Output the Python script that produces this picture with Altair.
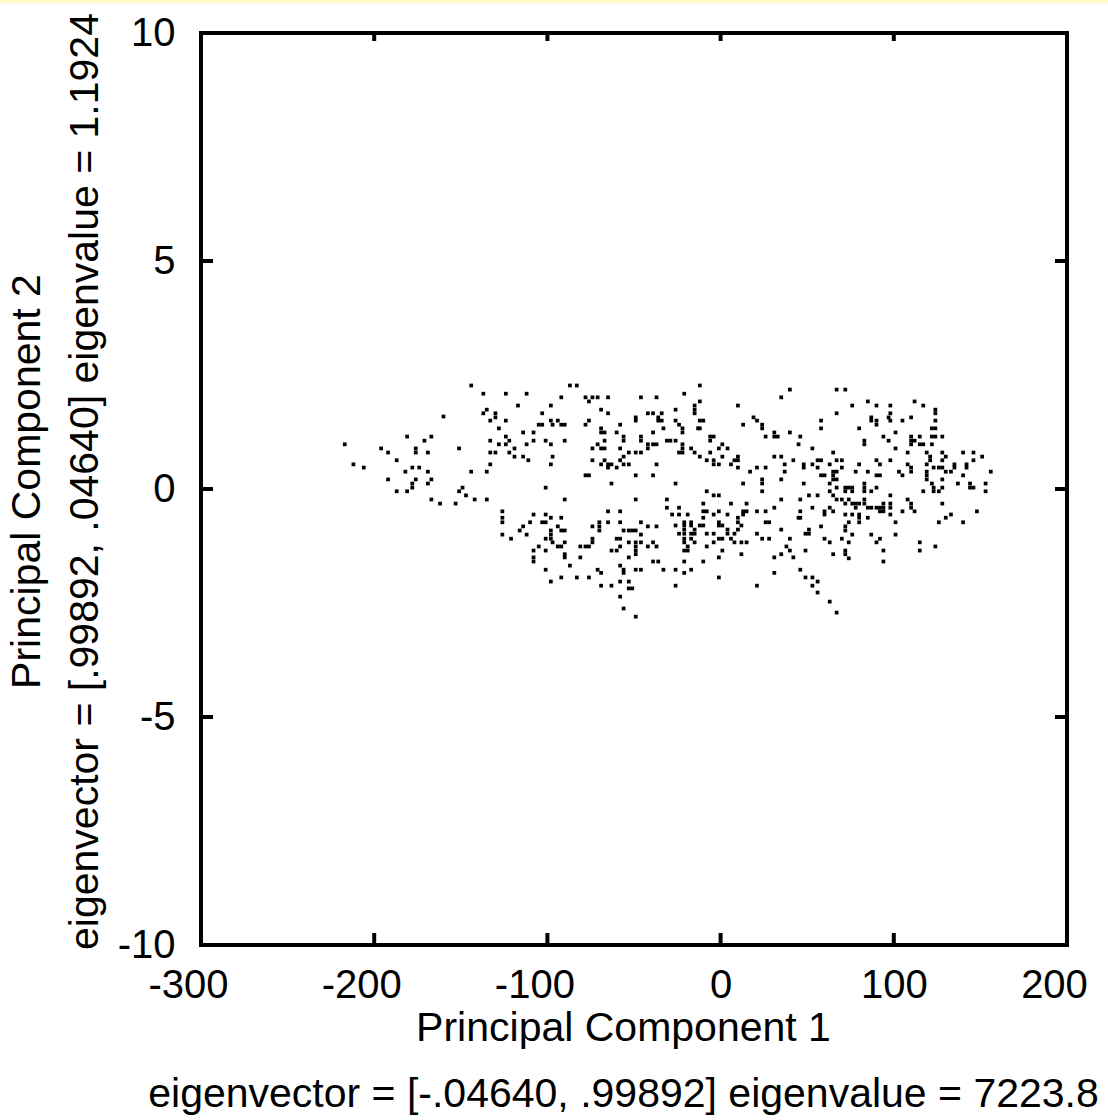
import altair as alt
import pandas as pd

# ---- data (PC1, PC2) ----
region_upper_left = [
    (-144, 2.27), (-137, 2.09), (-124, 2.09), (-112, 2.09), (-117, 1.83), (-135, 1.74),
    (-137, 1.66), (-130, 1.66), (-130, 1.57), (-160, 1.59), (-124, 1.50), (-133, 1.50),
    (-128, 1.33), (-114, 1.24), (-181, 1.15), (-167, 1.15), (-171, 1.06), (-124, 1.15),
    (-133, 1.06), (-122, 1.06), (-128, 0.98), (-124, 0.98), (-112, 0.98), (-217, 0.98),
    (-196, 0.89), (-176, 0.89), (-176, 0.80), (-151, 0.89), (-119, 0.89), (-119, 0.71),
    (-192, 0.80), (-169, 0.80), (-133, 0.80), (-130, 0.80), (-122, 0.80), (-114, 0.71),
    (-187, 0.63), (-111, 0.63), (-212, 0.54), (-133, 0.54), (-206, 0.47), (-182, 0.38),
    (-178, 0.47), (-174, 0.47), (-169, 0.38), (-144, 0.38), (-135, 0.38), (-192, 0.21),
    (-176, 0.21), (-167, 0.21), (-178, 0.12), (-178, 0.03), (-169, 0.12), (-149, 0.03),
    (-187, -0.05), (-181, -0.05), (-151, -0.05), (-147, -0.14), (-167, -0.23), (-142, -0.23),
    (-135, -0.23), (-162, -0.32), (-153, -0.32), (-126, -0.49), (-126, -0.63),
]

region_upper_mid = [
    (-87, 2.27), (-83, 2.27), (-92, 2.01), (-98, 1.83), (-103, 1.66), (-105, 1.41),
    (-103, 1.41), (-98, 1.50), (-97, 1.41), (-94, 1.50), (-92, 1.41), (-90, 1.41),
    (-108, 1.24), (-108, 1.06), (-101, 1.06), (-98, 0.98), (-90, 1.06), (-97, 0.71),
    (-98, 0.54), (-101, 0.03), (-90, -0.23), (-108, -0.56), (-101, -0.56), (-98, -0.63),
    (-92, -0.63), (-78, 2.01), (-76, 1.92), (-74, 2.01), (-71, 2.01), (-65, 2.01),
    (-46, 2.01), (-37, 2.01), (-69, 1.74), (-65, 1.66), (-76, 1.50), (-78, 1.41),
    (-69, 1.33), (-69, 1.24), (-67, 1.24), (-58, 1.41), (-60, 1.24), (-56, 1.15),
    (-56, 1.06), (-67, 1.06), (-46, 1.15), (-46, 1.06), (-49, 1.57), (-49, 1.50),
    (-42, 1.66), (-39, 1.66), (-36, 1.57), (-36, 1.50), (-39, 1.24), (-71, 0.98),
    (-74, 0.89), (-69, 0.89), (-67, 0.89), (-58, 0.89), (-53, 0.80), (-49, 0.80),
    (-46, 0.80), (-42, 0.98), (-39, 0.98), (-37, 0.98), (-42, 0.89), (-56, 0.71),
    (-74, 0.63), (-67, 0.63), (-58, 0.63), (-69, 0.54), (-65, 0.54), (-63, 0.54),
    (-65, 0.47), (-60, 0.47), (-56, 0.54), (-53, 0.54), (-37, 0.54), (-78, 0.30),
    (-76, 0.30), (-49, 0.30), (-39, 0.30), (-63, 0.12), (-49, -0.23), (-65, -0.49),
    (-58, -0.49),
]

region_upper_centre = [
    (-12, 2.27), (-21, 2.09), (-12, 1.92), (-15, 1.83), (-15, 1.74), (-15, 1.66),
    (-26, 1.74), (-34, 1.66), (-34, 1.50), (-26, 1.50), (-24, 1.41), (-22, 1.33),
    (-22, 1.24), (-12, 1.50), (-10, 1.50), (-13, 1.33), (-12, 1.33), (-33, 1.33),
    (-31, 1.06), (-29, 1.06), (-26, 1.06), (-22, 0.98), (-22, 0.89), (-24, 0.80),
    (-22, 0.80), (-17, 0.89), (-15, 0.80), (-12, 0.71), (-6, 1.15), (-6, 1.06),
    (-4, 1.15), (1, 0.98), (4, 0.89), (-1, 0.89), (-6, 0.80), (1, 0.71),
    (-8, 0.63), (-4, 0.63), (-4, 0.54), (-1, 0.54), (8, 0.63), (10, 0.71),
    (10, 0.63), (6, 0.54), (10, 0.47), (10, 1.83), (13, 1.41), (19, 1.57),
    (21, 1.50), (24, 1.41), (24, 1.33), (26, 1.15), (31, 1.24), (31, 1.15),
    (33, 1.15), (40, 1.24), (45, 0.98), (46, 1.15), (35, 2.01), (40, 2.18),
    (67, 2.18), (67, 1.66), (58, 1.50), (58, 1.33), (53, 0.89), (65, 0.80),
    (31, 0.71), (35, 0.71), (42, 0.63), (37, 0.54), (17, 0.38), (21, 0.47),
    (26, 0.47), (37, 0.38), (48, 0.54), (48, 0.47), (53, 0.54), (56, 0.63),
    (58, 0.63), (56, 0.47), (58, 0.30), (60, 0.30), (63, 0.54), (67, 0.63),
    (65, 0.38), (65, 0.30), (67, 0.38), (65, 0.21), (67, 0.21), (-26, 0.12),
    (-8, -0.05), (-4, -0.14), (-1, -0.14), (13, 0.12), (24, 0.21), (24, 0.12),
    (24, -0.05), (35, 0.21), (48, 0.12), (63, 0.12), (67, 0.03), (-31, -0.23),
    (-31, -0.41), (-24, -0.41), (-10, -0.32), (6, -0.32), (15, -0.32), (35, -0.23),
    (46, -0.23), (51, -0.14), (56, -0.14), (63, -0.05), (65, -0.14), (67, -0.23),
    (31, -0.41), (53, -0.41), (63, -0.41), (-28, -0.56), (-24, -0.56), (-19, -0.56),
    (-10, -0.49), (-8, -0.49), (-10, -0.63), (-4, -0.56), (-1, -0.49), (4, -0.56),
    (10, -0.63), (13, -0.49), (15, -0.49), (13, -0.56), (21, -0.49), (26, -0.49),
    (45, -0.63), (46, -0.63), (46, -0.49), (60, -0.49), (60, -0.56), (65, -0.49),
]

region_upper_right = [
    (72, 2.18), (76, 1.83), (85, 1.92), (90, 1.83), (98, 1.83), (112, 1.92),
    (117, 1.83), (124, 1.74), (124, 1.66), (98, 1.66), (87, 1.57), (87, 1.50),
    (90, 1.50), (90, 1.41), (97, 1.57), (98, 1.50), (105, 1.50), (110, 1.57),
    (124, 1.50), (80, 1.33), (101, 1.24), (122, 1.33), (124, 1.33), (94, 1.15),
    (97, 1.06), (110, 1.15), (110, 1.06), (110, 0.98), (112, 1.06), (115, 1.15),
    (115, 0.98), (117, 0.98), (122, 1.15), (124, 1.15), (128, 1.15), (122, 0.98),
    (83, 1.06), (83, 0.98), (101, 0.89), (108, 0.80), (119, 0.80), (128, 0.80),
    (140, 0.80), (146, 0.80), (151, 0.71), (121, 0.71), (121, 0.63), (130, 0.71),
    (70, 0.63), (90, 0.63), (98, 0.63), (128, 0.63), (146, 0.63), (80, 0.54),
    (92, 0.54), (108, 0.54), (119, 0.54), (135, 0.54), (135, 0.47), (133, 0.38),
    (142, 0.54), (142, 0.47), (70, 0.47), (123, 0.47), (126, 0.47), (128, 0.47),
    (78, 0.38), (85, 0.38), (103, 0.38), (110, 0.47), (110, 0.38), (119, 0.38),
    (130, 0.38), (156, 0.38), (90, 0.30), (92, 0.30), (105, 0.30), (119, 0.30),
    (119, 0.21), (122, 0.12), (128, 0.21), (140, 0.30), (137, 0.12), (144, 0.12),
    (144, 0.03), (146, 0.03), (153, 0.12), (153, -0.05), (72, 0.03), (74, 0.03),
    (76, 0.03), (72, -0.05), (76, -0.05), (83, 0.12), (83, 0.03), (83, -0.05),
    (90, 0.03), (87, -0.05), (117, -0.05), (123, 0.03), (123, -0.05), (126, -0.05),
    (128, 0.03), (70, -0.23), (72, -0.32), (74, -0.23), (76, -0.32), (78, -0.32),
    (80, -0.32), (83, -0.23), (83, -0.32), (98, -0.14), (108, -0.23), (85, -0.41),
    (87, -0.41), (90, -0.41), (92, -0.41), (94, -0.32), (94, -0.41), (92, -0.49),
    (94, -0.49), (98, -0.32), (98, -0.41), (98, -0.56), (78, -0.41), (105, -0.49),
    (110, -0.32), (110, -0.41), (112, -0.49), (128, -0.32), (148, -0.49), (133, -0.56),
    (130, -0.63), (72, -0.56), (76, -0.56), (80, -0.56), (80, -0.63), (85, -0.63),
]

region_lower_right = [
    (58, -0.82), (72, -0.82), (72, -0.91), (76, -1.00), (87, -1.00), (101, -1.00),
    (60, -1.09), (63, -1.17), (70, -1.09), (74, -1.17), (92, -1.09), (90, -1.17),
    (115, -1.17), (124, -1.26), (94, -1.35), (115, -1.35), (65, -1.43), (72, -1.35),
    (72, -1.43), (74, -1.52), (94, -1.59), (63, -2.47), (126, -0.73), (140, -0.73),
    (101, -0.73), (74, -0.73), (80, -0.73),
]

region_lower_left = [
    (-126, -0.73), (-116, -0.91), (-114, -0.82), (-110, -0.73), (-103, -0.73), (-101, -0.73),
    (-126, -1.00), (-121, -1.09), (-112, -1.00), (-98, -0.91), (-98, -1.00), (-101, -1.09),
    (-98, -1.09), (-94, -0.82), (-92, -0.91), (-90, -0.91), (-97, -1.17), (-94, -1.26),
    (-92, -1.26), (-90, -1.17), (-105, -1.26), (-108, -1.35), (-101, -1.35), (-108, -1.50),
    (-108, -1.59), (-90, -1.43), (-90, -1.50), (-87, -1.68), (-101, -1.77), (-98, -2.03),
    (-92, -1.94), (-83, -1.94), (-76, -1.94), (-81, -1.26), (-78, -1.26), (-76, -1.26),
    (-74, -1.09), (-74, -1.17), (-74, -0.82), (-70, -0.73), (-70, -0.82), (-70, -0.91),
    (-65, -0.73), (-58, -0.73), (-81, -1.50), (-71, -1.77), (-69, -1.84), (-69, -2.12),
    (-63, -2.12), (-63, -1.35), (-60, -1.35), (-60, -1.09), (-58, -1.09), (-58, -1.26),
    (-56, -0.91), (-53, -0.91), (-51, -0.91), (-49, -0.91), (-46, -0.73), (-46, -1.00),
    (-53, -1.17), (-49, -1.17), (-46, -1.17), (-49, -1.26), (-49, -1.35), (-49, -1.43),
    (-53, -1.50), (-58, -1.68), (-56, -1.77), (-56, -1.84), (-49, -1.77), (-46, -1.77),
    (-58, -2.03), (-53, -2.03), (-53, -2.18), (-51, -2.18), (-58, -2.36), (-56, -2.62),
    (-49, -2.80), (-42, -0.82), (-37, -0.82), (-42, -1.26), (-39, -1.17), (-37, -1.26),
    (-39, -1.59), (-36, -1.59),
]

region_lower_centre = [
    (-26, -0.80), (-21, -0.73), (-21, -0.80), (-21, -0.89), (-21, -0.98), (-17, -0.73),
    (-17, -0.80), (-12, -0.80), (-10, -0.80), (-24, -0.98), (-15, -0.89), (-17, -0.98),
    (-15, -0.98), (-21, -1.09), (-21, -1.17), (-17, -1.09), (-15, -1.17), (-8, -0.98),
    (-4, -0.98), (-1, -0.73), (-1, -0.80), (1, -0.80), (4, -0.89), (4, -0.98),
    (-1, -1.09), (1, -1.09), (6, -1.09), (8, -1.17), (10, -0.73), (10, -0.89),
    (12, -0.80), (8, -0.98), (12, -1.17), (15, -1.17), (-4, -1.17), (-8, -1.26),
    (-19, -1.26), (-21, -1.35), (-19, -1.35), (1, -1.35), (12, -1.43), (-1, -1.50),
    (-21, -1.59), (-10, -1.59), (-17, -1.77), (-21, -1.84), (-1, -1.94), (-26, -2.12),
    (-33, -1.77), (-26, -1.77), (21, -0.98), (24, -1.09), (28, -1.09), (26, -0.73),
    (28, -0.73), (35, -0.89), (40, -1.09), (38, -1.26), (40, -1.35), (35, -1.43),
    (42, -1.50), (49, -1.35), (49, -0.98), (51, -0.98), (51, -0.89), (31, -1.50),
    (31, -1.84), (46, -1.77), (49, -1.94), (53, -1.94), (56, -2.03), (53, -2.12),
    (56, -2.27), (21, -2.12), (67, -2.71),
]

all_points = (region_upper_left + region_upper_mid + region_upper_centre + region_upper_right
              + region_lower_right + region_lower_left + region_lower_centre)
df = pd.DataFrame(all_points, columns=["pc1", "pc2"])

x_ticks = [-300, -200, -100, 0, 100, 200]
y_ticks = [-10, -5, 0, 5, 10]

x_title = ["Principal Component 1", "eigenvector = [-.04640, .99892] eigenvalue = 7223.8"]
y_title = ["Principal Component 2", "eigenvector = [.99892, .04640] eigenvalue = 1.1924"]

W, H = 866, 912
FONT = "Liberation Sans"

xscale = alt.Scale(domain=[-300, 200], nice=False, zero=False)
yscale = alt.Scale(domain=[-10, 10], nice=False, zero=False)

x_axis = alt.Axis(
    values=x_ticks, ticks=False, tickSize=0, domain=False, grid=False,
    labelExpr="datum.value + ''", labelFlush=False, labelOverlap=False,
    labelFont=FONT, labelFontSize=40, labelColor="black", labelPadding=20,
    labelOffset={"condition": {"test": "datum.value < 0 || datum.value == 200", "value": -13},
                 "value": 0},
    title=x_title, titleFont=FONT, titleFontSize=41, titleFontWeight="normal",
    titleColor="black", titleLineHeight=66, titleX=422, titleY=95,
    titleAlign="center", titleBaseline="alphabetic",
)
y_axis = alt.Axis(
    values=y_ticks, ticks=False, tickSize=0, domain=False, grid=False,
    labelExpr="datum.value + ''", labelFlush=False, labelOverlap=False,
    labelFont=FONT, labelFontSize=40, labelColor="black", labelPadding=26,
    title=y_title, titleFont=FONT, titleFontSize=41, titleFontWeight="normal",
    titleColor="black", titleLineHeight=58, titleAngle=270, titleX=-162, titleY=448,
    titleAlign="center", titleBaseline="alphabetic",
)

points = alt.Chart(df).mark_square(size=14, color="black", opacity=1).encode(
    x=alt.X("pc1:Q", scale=xscale, axis=x_axis),
    y=alt.Y("pc2:Q", scale=yscale, axis=y_axis),
)

tx = pd.DataFrame({"pc1": x_ticks})
ty = pd.DataFrame({"pc2": y_ticks})

bottom_ticks = alt.Chart(tx).mark_rule(color="black", strokeWidth=4).encode(
    x=alt.X("pc1:Q", scale=xscale), y=alt.value(H), y2=alt.value(H - 12))
top_ticks = alt.Chart(tx).mark_rule(color="black", strokeWidth=4).encode(
    x=alt.X("pc1:Q", scale=xscale), y=alt.value(0), y2=alt.value(8))
left_ticks = alt.Chart(ty).mark_rule(color="black", strokeWidth=4).encode(
    y=alt.Y("pc2:Q", scale=yscale), x=alt.value(0), x2=alt.value(12))
right_ticks = alt.Chart(ty).mark_rule(color="black", strokeWidth=4).encode(
    y=alt.Y("pc2:Q", scale=yscale), x=alt.value(W - 12), x2=alt.value(W))

strip = alt.Chart(pd.DataFrame({"k": [0]})).mark_rect(color="#fffbc8").encode(
    x=alt.value(-201), x2=alt.value(907), y=alt.value(-33), y2=alt.value(-29.5))

chart = alt.layer(strip, points, bottom_ticks, top_ticks, left_ticks, right_ticks).properties(
    width=W, height=H,
    padding={"left": 201, "top": 33, "right": 41, "bottom": 175},
    autosize=alt.AutoSizeParams(type="none"),
    background="white",
).configure_view(stroke="black", strokeWidth=4)

chart.save("out.html", embed_options={"renderer": "svg", "actions": False})
